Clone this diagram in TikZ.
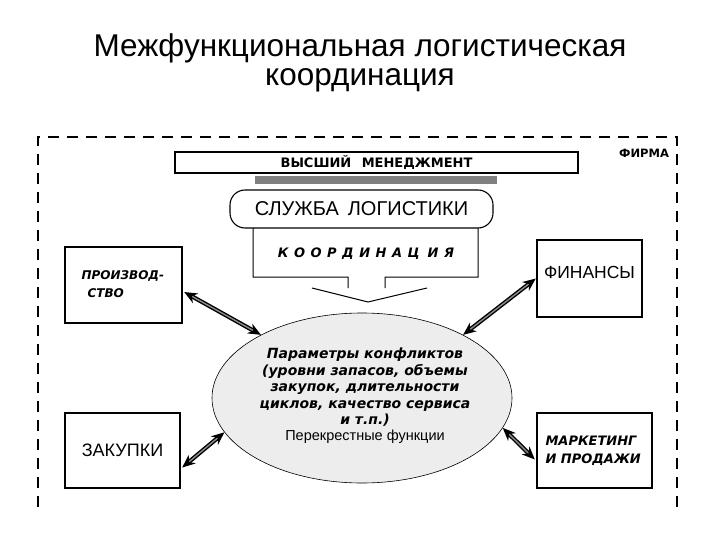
\documentclass[tikz,border=0pt]{standalone}
\usepackage{fontspec}
\setmainfont{Liberation Sans}
\newfontfamily\dv{DejaVu Sans}
\usetikzlibrary{shapes.geometric,arrows.meta,calc}
\begin{document}
\begin{tikzpicture}[x=1pt,y=-1pt,
  frame/.style={line width=2.6pt, dash pattern=on 11pt off 8pt},
  unitbox/.style={draw, line width=2.4pt, inner sep=0pt, minimum width=#1, minimum height=76pt},
  boldit/.style={font=\dv\bfseries\itshape\fontsize{12.5}{18}\selectfont, align=left},
  plainlbl/.style={font=\fontsize{17.5}{20}\selectfont},
  conn/.style={double=black!45, double distance=1.4pt, line width=1.4pt,
    {Stealth[length=13pt,width=11pt]}-{Stealth[length=13pt,width=11pt]}}
]
\useasboundingbox[fill=white] (0,0) rectangle (720,540);

% title
\node[font=\fontsize{31.5}{29}\selectfont, align=center] (title) at (360,63)
  {Межфункциональная логистическая\\координация};

% firm frame
\draw[frame] (38,507) -- (38,137) -- (677,137) -- (677,507);
\node[font=\dv\bfseries\fontsize{11.5}{13}\selectfont] (firma) at (644,153) {ФИРМА};

% top management
\node[draw, line width=1.3pt, minimum width=403pt, minimum height=21pt, inner sep=0pt,
  font=\dv\bfseries\fontsize{13}{15}\selectfont] (top) at (376.5,162.5)
  {ВЫСШИЙ\hspace{0.8em}МЕНЕДЖМЕНТ};
\fill[black!50] (255,176) rectangle (497,184);

% coordination box with block arrow
\node[inner sep=0pt, minimum width=225pt, minimum height=49pt,
  font=\dv\bfseries\itshape\fontsize{13}{15}\selectfont] (coord) at (366,254)
  {К\hspace{5.5pt}О\hspace{5.5pt}О\hspace{5.5pt}Р\hspace{5.5pt}Д\hspace{5.5pt}И\hspace{5.5pt}Н\hspace{5.5pt}А\hspace{5.5pt}Ц\hspace{8pt}И\hspace{5.5pt}Я};
\draw[line width=1pt] (253,228) -- (253,277) -- (348,277) -- (348,288)
  (312,288) -- (368,302) -- (427,288)
  (385,288) -- (385,277) -- (478,277) -- (478,228);

% logistics service
\node[draw, fill=white, line width=1.1pt, rounded corners=15pt, minimum width=263pt,
  minimum height=38pt, inner sep=0pt, font=\fontsize{20}{23}\selectfont] (sl) at (361.5,209)
  {СЛУЖБА\hspace{0.45em}ЛОГИСТИКИ};

% ellipse
\node[ellipse, draw, line width=0.6pt, fill=black!7, minimum width=300pt,
  minimum height=170pt, inner sep=0pt] (ell) at (362,398) {};
\node[align=center, font=\dv\bfseries\itshape\fontsize{14}{16.4}\selectfont] (ellT) at (365,396)
  {Параметры конфликтов\\(уровни запасов, объемы\\закупок, длительности\\циклов, качество сервиса\\и т.п.)\\
   {\normalfont\fontsize{14.5}{16.4}\selectfont Перекрестные функции}};

% function boxes
\node[unitbox=117pt] (prod) at (123.5,285) {};
\node[boldit, font=\dv\bfseries\itshape\fontsize{12}{18}\selectfont, anchor=west] (prodT) at (78,284) {ПРОИЗВОД-\\\hspace*{6pt}СТВО};

\node[unitbox=105pt, minimum height=77pt] (fin) at (589.5,278.5) {};
\node[plainlbl] (finT) at ($(fin.center)+(0,-6)$) {ФИНАНСЫ};

\node[unitbox=115pt, minimum height=75pt] (zak) at (122.5,450.5) {};
\node[plainlbl, font=\fontsize{18}{20}\selectfont] (zakT) at (zak.center) {ЗАКУПКИ};

\node[unitbox=115pt, minimum height=75pt] (mk) at (594.5,450.5) {};
\node[boldit, font=\dv\bfseries\itshape\fontsize{13}{18}\selectfont, anchor=west] (mkT) at (542,451) {МАРКЕТИНГ\\И ПРОДАЖИ};

% connectors
\draw[conn] ($(prod.east)+(1,7)$) -- (ell.148);
\draw[conn] (fin.west) -- (ell.32);
\draw[conn] ($(zak.east)+(1,17)$) -- (ell.194);
\draw[conn] ($(mk.west)+(-1,9)$) -- (ell.348);
\end{tikzpicture}
\end{document}
